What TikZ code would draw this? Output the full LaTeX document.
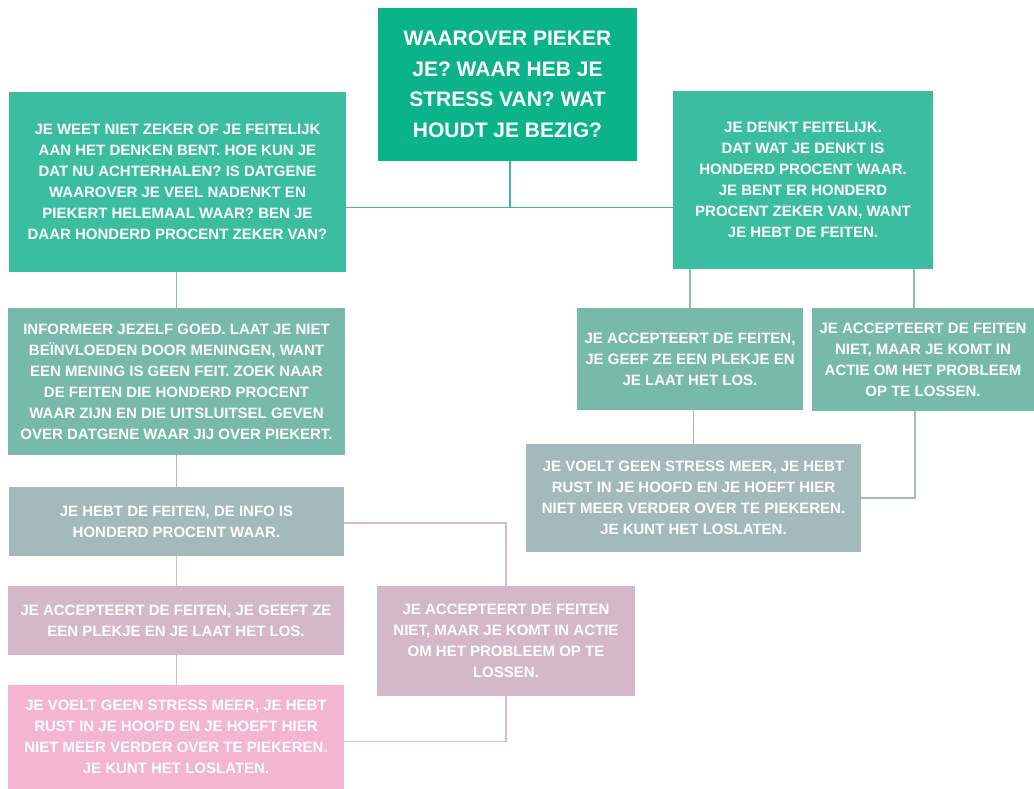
\documentclass[tikz,border=0pt]{standalone}
\usepackage{fontspec}
\setmainfont{Liberation Sans}
\definecolor{cTop}{HTML}{0BB38A}
\definecolor{cGreen}{HTML}{3BBE9F}
\definecolor{cTeal}{HTML}{77B9AA}
\definecolor{cGray}{HTML}{A4B9BB}
\definecolor{cMauve}{HTML}{D5B7CA}
\definecolor{cPink}{HTML}{F4B5D3}
\definecolor{lGreen}{HTML}{3BBE9F}
\definecolor{lTeal}{HTML}{86BFB2}
\definecolor{lGray}{HTML}{A4BCBE}
\definecolor{lPink}{HTML}{D9B9CD}
\begin{document}
\begin{tikzpicture}[x=1pt,y=-1pt,
  box/.style={rectangle, inner sep=0pt, text=white, align=center,
    font=\bfseries\fontsize{15}{21}\selectfont},
  topbox/.style={box, font=\bfseries\fontsize{21}{30.5}\selectfont},
  conn/.style={line width=1.5pt}]
\useasboundingbox (0,0) rectangle (1034,789);
\fill[white] (0,0) rectangle (1034,789);

\node[topbox, fill=cTop, minimum width=259pt, minimum height=153pt] (T) at (507.5,84.5)
  {WAAROVER PIEKER\\JE? WAAR HEB JE\\STRESS VAN? WAT\\HOUDT JE BEZIG?};
\node[box, fill=cGreen, minimum width=337pt, minimum height=180pt] (A) at (177.5,182)
  {JE WEET NIET ZEKER OF JE FEITELIJK\\AAN HET DENKEN BENT. HOE KUN JE\\DAT NU ACHTERHALEN? IS DATGENE\\WAAROVER JE VEEL NADENKT EN\\PIEKERT HELEMAAL WAAR? BEN JE\\DAAR HONDERD PROCENT ZEKER VAN?};
\node[box, fill=cGreen, minimum width=260pt, minimum height=177pt] (B) at (803,180)
  {JE DENKT FEITELIJK.\\DAT WAT JE DENKT IS\\HONDERD PROCENT WAAR.\\JE BENT ER HONDERD\\PROCENT ZEKER VAN, WANT\\JE HEBT DE FEITEN.};
\node[box, fill=cTeal, minimum width=337pt, minimum height=147pt] (C) at (176.5,381.5)
  {INFORMEER JEZELF GOED. LAAT JE NIET\\BEÏNVLOEDEN DOOR MENINGEN, WANT\\EEN MENING IS GEEN FEIT. ZOEK NAAR\\DE FEITEN DIE HONDERD PROCENT\\WAAR ZIJN EN DIE UITSLUITSEL GEVEN\\OVER DATGENE WAAR JIJ OVER PIEKERT.};
\node[box, fill=cGray, minimum width=335pt, minimum height=69pt] (D) at (176.5,521.5)
  {JE HEBT DE FEITEN, DE INFO IS\\HONDERD PROCENT WAAR.};
\node[box, fill=cMauve, minimum width=336pt, minimum height=69pt] (E) at (176,620.5)
  {JE ACCEPTEERT DE FEITEN, JE GEEFT ZE\\EEN PLEKJE EN JE LAAT HET LOS.};
\node[box, fill=cMauve, minimum width=258pt, minimum height=110pt] (F) at (506,641)
  {JE ACCEPTEERT DE FEITEN\\NIET, MAAR JE KOMT IN ACTIE\\OM HET PROBLEEM OP TE\\LOSSEN.};
\node[box, fill=cPink, minimum width=336pt, minimum height=104pt] (G) at (176,737)
  {JE VOELT GEEN STRESS MEER, JE HEBT\\RUST IN JE HOOFD EN JE HOEFT HIER\\NIET MEER VERDER OVER TE PIEKEREN.\\JE KUNT HET LOSLATEN.};
\node[box, fill=cTeal, minimum width=226pt, minimum height=102pt] (H) at (690,359)
  {JE ACCEPTEERT DE FEITEN,\\JE GEEF ZE EEN PLEKJE EN\\JE LAAT HET LOS.};
\node[box, fill=cTeal, minimum width=222pt, minimum height=103pt] (I) at (923,359.5)
  {JE ACCEPTEERT DE FEITEN\\NIET, MAAR JE KOMT IN\\ACTIE OM HET PROBLEEM\\OP TE LOSSEN.};
\node[box, fill=cGray, minimum width=335pt, minimum height=108pt] (J) at (693.5,498)
  {JE VOELT GEEN STRESS MEER, JE HEBT\\RUST IN JE HOOFD EN JE HOEFT HIER\\NIET MEER VERDER OVER TE PIEKEREN.\\JE KUNT HET LOSLATEN.};

\coordinate (j1) at (510,207.5);
\coordinate (j2) at (506,523);
\coordinate (j3) at (506,741.5);
\coordinate (j4) at (914,308);
\coordinate (j5) at (915,498);
\coordinate (jl) at (176.5,400);

\draw[conn, lGreen] (T.south -| j1) -- (j1);
\draw[conn, lGreen] (A.east |- j1) -- (B.west |- j1);
\draw[conn, lTeal] (A.south -| jl) -- (C.north -| jl);
\draw[conn, lGray] (C.south -| jl) -- (D.north -| jl);
\draw[conn, lPink] (D.south -| jl) -- (E.north -| jl);
\draw[conn, lPink] (E.south -| jl) -- (G.north -| jl);
\draw[conn, lPink] (D.east |- j2) -| (F.north);
\draw[conn, lPink] (F.south) |- (G.east |- j3);
\draw[conn, lTeal] (B.south -| H.north) -- (H.north);
\draw[conn, lTeal] (B.south -| j4) -- (j4);
\draw[conn, lGray] (J.north) -- (J.north |- H.south);
\draw[conn, lGray] (I.south -| j5) |- (J.east);
\end{tikzpicture}
\end{document}
